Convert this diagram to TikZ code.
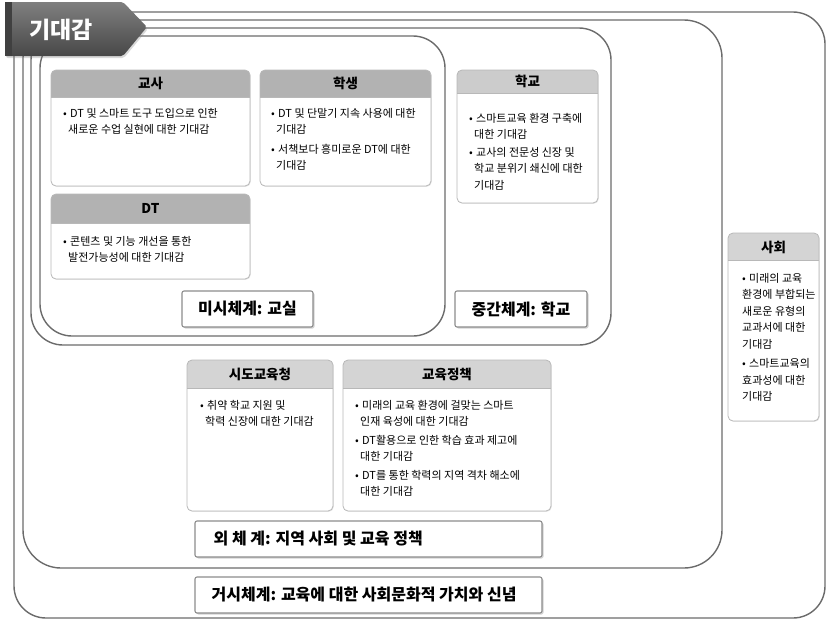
\documentclass[tikz,border=0pt]{standalone}
\usepackage{fontspec}
\setmainfont{Noto Sans CJK KR}
\usetikzlibrary{shadows}

\newcommand{\itm}{\makebox[7pt][l]{•}}
\newcommand{\cnt}{\hspace*{5pt}}

\tikzset{
  frame/.style={draw=black!58, line width=1.4pt, rounded corners=32pt},
  cardline/.style={draw=black!28, line width=0.8pt, rounded corners=5pt},
  cardtitle/.style={font=\bfseries\fontsize{13.5}{16}\selectfont, inner sep=0pt},
  cardtext/.style={font=\fontsize{11}{16.5}\selectfont, align=left, anchor=north west, inner sep=0pt},
  levelbox/.style={draw=black!45, fill=white, line width=1.1pt, rounded corners=2pt,
    minimum height=36pt, drop shadow={shadow xshift=1.5pt, shadow yshift=-1.5pt, opacity=0.35}},
  leveltext/.style={font=\bfseries\fontsize{16}{18}\selectfont}
}

\begin{document}
\begin{tikzpicture}[x=1pt, y=-1pt]
    \useasboundingbox (0,0) rectangle (827,622);

    % Nested systems
    \draw[frame] (14,12) rectangle (825,618);
    \draw[frame, rounded corners=38pt] (23,20) rectangle (722,568);
    \draw[frame] (31,28) rectangle (611,345);
    \draw[frame] (40,36) rectangle (445,336);

    % Banner
    \shade[top color=black!50, bottom color=black!72, rounded corners=2pt,
      drop shadow={shadow xshift=1pt, shadow yshift=-2pt, opacity=0.3}]
      (5,2) -- (123,2) -- (147,27) -- (123,56) -- (5,56) -- cycle;
    \fill[black!75] (5,2) rectangle (12,56);
    \node[font=\bfseries\fontsize{23}{23}\selectfont, text=white] (expect) at (61,30) {기대감};

    % Cards: body, header band, border
    \foreach \xa/\ya/\xb/\yb/\yh/\hc in {
        51/70/250/186/97/black!30, 260/70/431/186/97/black!30,
        51/194/250/279/223/black!30, 457/70/598/203/93/black!20,
        728/233/819/421/260/black!17, 187/360/333/511/388/black!17,
        343/360/551/511/388/black!17} {
      \fill[white, rounded corners=5pt,
        drop shadow={shadow xshift=0.8pt, shadow yshift=-0.8pt, opacity=0.2}]
        (\xa,\ya) rectangle (\xb,\yb);
      \begin{scope}
        \clip[rounded corners=5pt] (\xa,\ya) rectangle (\xb,\yb);
        \fill[fill=\hc] (\xa,\ya) rectangle (\xb,\yh);
      \end{scope}
      \draw[black!28, line width=0.6pt] (\xa,\yh) -- (\xb,\yh);
      \draw[cardline] (\xa,\ya) rectangle (\xb,\yb);
    }

    % Card titles
    \node[cardtitle] (teacher) at (150.5,83) {교사};
    \node[cardtitle] (student) at (345.5,83) {학생};
    \node[cardtitle] (dt) at (150.5,208) {DT};
    \node[cardtitle] (school) at (527.5,81) {학교};
    \node[cardtitle] (society) at (773.5,247) {사회};
    \node[cardtitle] (office) at (260,374) {시도교육청};
    \node[cardtitle] (policy) at (447,374) {교육정책};

    % Card texts
    \node[cardtext] (teachertext) at (63,108) {\itm DT 및 스마트 도구 도입으로 인한\\
      \cnt 새로운 수업 실현에 대한 기대감};
    \node[cardtext] (studenttext) at (271,108) {\itm DT 및 단말기 지속 사용에 대한\\
      \cnt 기대감\\[3pt]
      \itm 서책보다 흥미로운 DT에 대한\\
      \cnt 기대감};
    \node[cardtext] (dttext) at (63,236) {\itm 콘텐츠 및 기능 개선을 통한\\
      \cnt 발전가능성에 대한 기대감};
    \node[cardtext] (schooltext) at (469,113) {\itm 스마트교육 환경 구축에\\
      \cnt 대한 기대감\\[1pt]
      \itm 교사의 전문성 신장 및\\
      \cnt 학교 분위기 쇄신에 대한\\
      \cnt 기대감};
    \node[cardtext] (societytext) at (742,273) {\itm 미래의 교육\\
      환경에 부합되는\\
      새로운 유형의\\
      교과서에 대한\\
      기대감\\[3pt]
      \itm 스마트교육의\\
      효과성에 대한\\
      기대감};
    \node[cardtext] (officetext) at (200,400) {\itm 취약 학교 지원 및\\
      \cnt 학력 신장에 대한 기대감};
    \node[cardtext] (policytext) at (355,400) {\itm 미래의 교육 환경에 걸맞는 스마트\\
      \cnt 인재 육성에 대한 기대감\\[2pt]
      \itm DT활용으로 인한 학습 효과 제고에\\
      \cnt 대한 기대감\\[2pt]
      \itm DT를 통한 학력의 지역 격차 해소에\\
      \cnt 대한 기대감};

    % System labels
    \node[levelbox, leveltext, minimum width=131pt] (micro) at (247.5,309) {미시체계: 교실};
    \node[levelbox, leveltext, minimum width=132pt] (meso) at (521,309) {중간체계: 학교};
    \node[levelbox, minimum width=347pt] (exo) at (368.5,539) {};
    \node[leveltext, anchor=west, inner sep=0pt] (exotext)
      at ([xshift=19pt]exo.west) {외 체 계: 지역 사회 및 교육 정책};
    \node[levelbox, minimum width=347pt] (macro) at (368.5,595) {};
    \node[leveltext, anchor=west, inner sep=0pt] (macrotext)
      at ([xshift=17pt]macro.west) {거시체계: 교육에 대한 사회문화적 가치와 신념};
\end{tikzpicture}
\end{document}
